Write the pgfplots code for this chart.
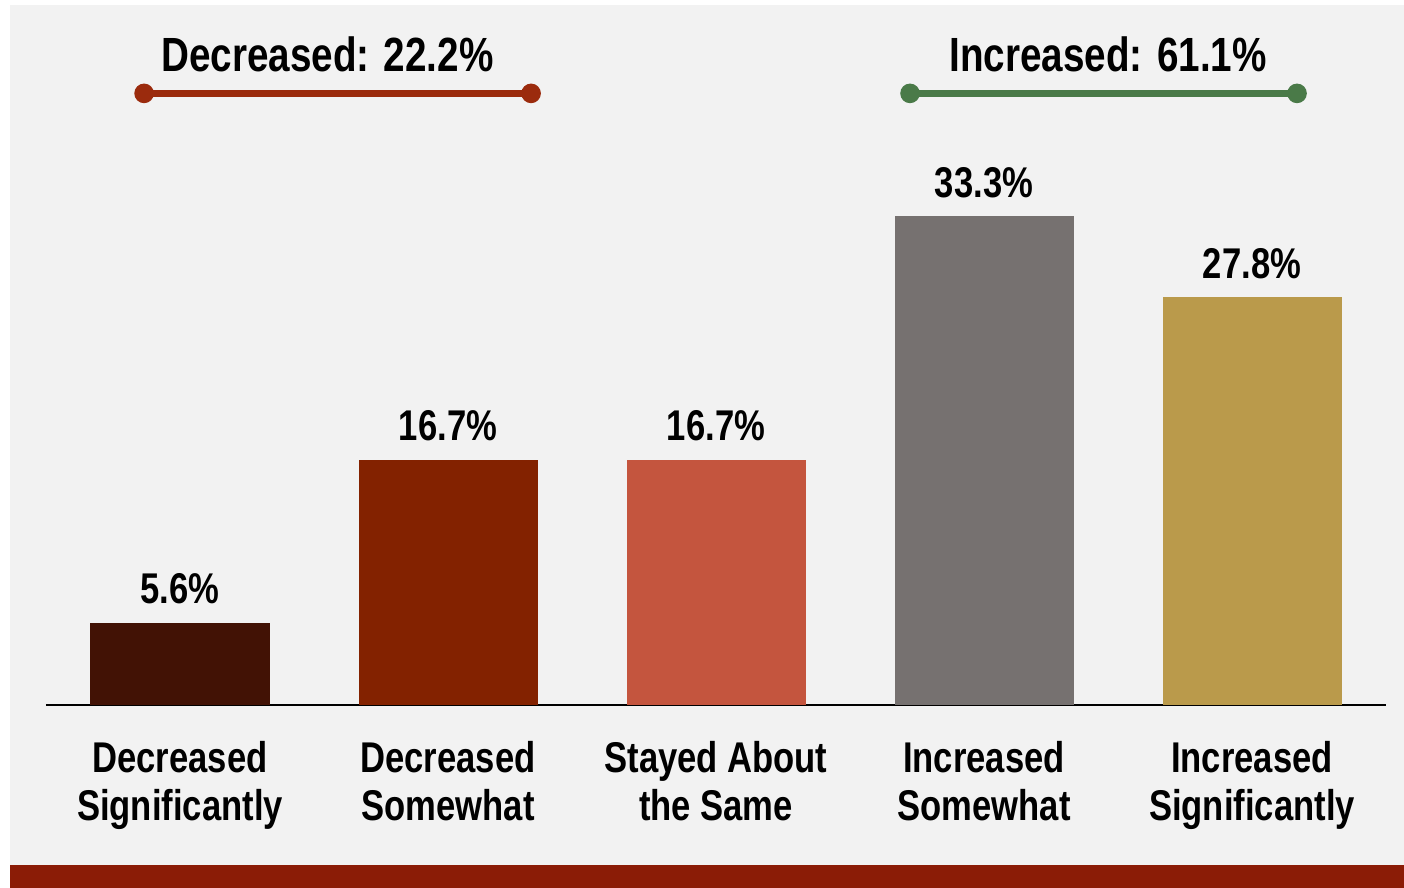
\documentclass[border=0pt]{standalone}
\usepackage{fontspec}
\setmainfont{Liberation Sans}[FakeStretch=0.805]
\usepackage{pgfplots}
\pgfplotsset{compat=1.18}
\definecolor{bg}{HTML}{F2F2F2}
\definecolor{botred}{HTML}{8B1C06}
\definecolor{cA}{HTML}{421205}
\definecolor{cB}{HTML}{832200}
\definecolor{cC}{HTML}{C4553E}
\definecolor{cD}{HTML}{767170}
\definecolor{cE}{HTML}{BA9A4B}
\definecolor{bred}{HTML}{9B2B0D}
\definecolor{bgreen}{HTML}{4A7A48}
\pgfplotsset{
  mybar/.style={ybar, fill=#1, draw=none, bar width=89.5pt, bar shift=0pt,
    nodes near coords={\pgfmathprintnumber[fixed,precision=1,fixed zerofill]{\pgfplotspointmeta}\%},
    every node near coord/.append style={font=\bfseries\fontsize{21.5}{24}\selectfont, text=black, anchor=south, inner sep=0pt, yshift=9pt}}
}
\begin{document}
\begin{tikzpicture}
\useasboundingbox (0,0) rectangle (702pt,444pt);
\fill[white] (0,0) rectangle (702pt,444pt);
\fill[bg] (5pt,11.5pt) rectangle (702pt,441.5pt);
\fill[botred] (5pt,0) rectangle (702pt,11.5pt);
\begin{axis}[
  at={(23pt,91.5pt)}, anchor=south west,
  scale only axis, width=670pt, height=350pt,
  xmin=-0.5, xmax=4.5, ymin=0, ymax=47.68,
  hide y axis,
  axis x line*=bottom,
  x axis line style={black, line width=1pt, -},
  xtick={0,1,2,3,4},
  xticklabels={{Decreased\\Significantly},{Decreased\\Somewhat},{Stayed About\\the Same},{Increased\\Somewhat},{Increased\\Significantly}},
  major tick length=0pt,
  xticklabel style={align=center, anchor=north, inner sep=0pt, yshift=-18pt, font=\bfseries\fontsize{21.5}{24}\selectfont},
  /pgf/number format/assume math mode=true,
  clip=false,
]
\addplot[mybar=cA] coordinates {(0,5.6)};
\addplot[mybar=cB] coordinates {(1,16.7)};
\addplot[mybar=cC] coordinates {(2,16.7)};
\addplot[mybar=cD] coordinates {(3,33.3)};
\addplot[mybar=cE] coordinates {(4,27.8)};
\addplot[bred, line width=3.25pt, mark=*, mark size=4.6pt, mark options={solid, fill=bred, line width=0.6pt}] coordinates {(-0.134,41.66) (1.31,41.66)};
\addplot[bgreen, line width=3.25pt, mark=*, mark size=4.6pt, mark options={solid, fill=bgreen, line width=0.6pt}] coordinates {(2.724,41.66) (4.168,41.66)};
\node[anchor=base, inner sep=0pt, font=\bfseries\fontsize{24}{28}\selectfont] at (axis cs:0.550,43.12) {Decreased: 22.2\%};
\node[anchor=base, inner sep=0pt, font=\bfseries\fontsize{24}{28}\selectfont] at (axis cs:3.463,43.12) {Increased: 61.1\%};
\end{axis}
\end{tikzpicture}
\end{document}
